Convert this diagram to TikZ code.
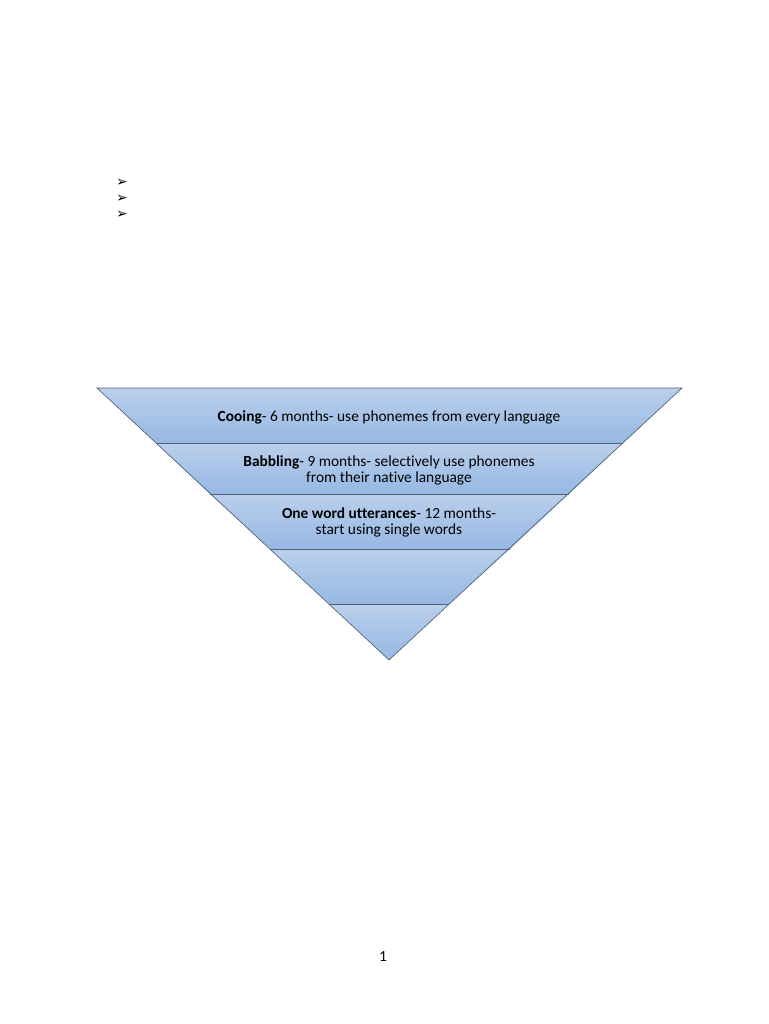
\documentclass[tikz,border=0pt]{standalone}
\usepackage{fontspec}
\setmainfont{Carlito}[Ligatures=NoCommon]
\newfontfamily\symfont{DejaVu Sans}
\definecolor{bandtop}{RGB}{186,207,236}
\definecolor{bandbot}{RGB}{150,184,227}
\definecolor{bandline}{RGB}{85,95,115}
\tikzset{
  band/.style={top color=bandtop, bottom color=bandbot},
  edge/.style={draw=bandline, line width=0.5pt},
  label/.style={align=center, font=\fontsize{11.6}{12.2}\selectfont, inner sep=0pt},
  bullet/.style={font=\symfont\fontsize{10.5}{10.5}\selectfont, inner sep=0pt}
}
\begin{document}
\begin{tikzpicture}[x=0.02646cm, y=-0.02646cm]
    \useasboundingbox[fill=white] (0, 0) rectangle (768, 1024);

    \node[bullet] (b1) at (122, 183) {➢};
    \node[bullet] (b2) at (122, 199) {➢};
    \node[bullet] (b3) at (122, 215) {➢};

    \shade[band] (97, 388) -- (682, 388) -- (623, 443) -- (156, 443) -- cycle;
    \shade[band] (156, 443) -- (623, 443) -- (569, 494) -- (210, 494) -- cycle;
    \shade[band] (210, 494) -- (569, 494) -- (510, 549) -- (270, 549) -- cycle;
    \shade[band] (270, 549) -- (510, 549) -- (449, 604) -- (329, 604) -- cycle;
    \shade[band] (329, 604) -- (449, 604) -- (389, 660) -- cycle;

    \draw[edge] (97, 388) -- (682, 388) -- (389, 660) -- cycle;
    \draw[edge] (156, 443) -- (623, 443);
    \draw[edge] (210, 494) -- (569, 494);
    \draw[edge] (270, 549) -- (510, 549);
    \draw[edge] (329, 604) -- (449, 604);

    \node[label] (cooing) at (389, 417.5) {\textbf{Cooing}- 6 months- use phonemes from every language};
    \node[label] (babbling) at (389, 470.5) {\textbf{Babbling}- 9 months- selectively use phonemes\\from their native language};
    \node[label] (oneword) at (389, 522.5) {\textbf{One word utterances}- 12 months-\\start using single words};

    \node[label] (page) at (383, 957) {1};
  \end{tikzpicture}
\end{document}
